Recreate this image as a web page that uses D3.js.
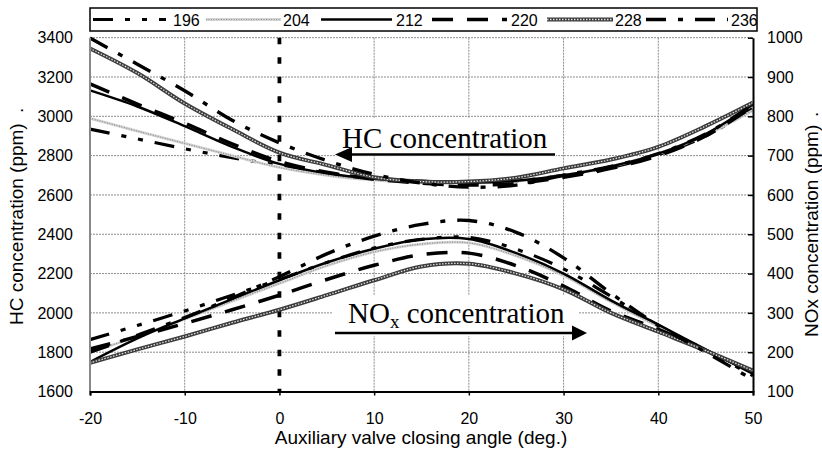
<!DOCTYPE html>
<html><head><meta charset="utf-8">
<script src="https://cdn.jsdelivr.net/npm/d3@7"></script>
<style>
html,body{margin:0;padding:0;background:#fff;}
svg{display:block;}
</style></head>
<body>
<svg id="chart" width="822" height="455"></svg>
<script>
// ---- data ----
const angles = [-20,-15,-10,-5,0,5,10,15,20,25,30,35,40,45,50];
const seriesNames = ["196","204","212","220","228","236"];
const hc196 = [2935,2885,2835,2790,2750,2712,2685,2670,2665,2672,2700,2740,2805,2900,3040];
const hc204 = [2990,2925,2862,2800,2740,2700,2675,2662,2660,2670,2700,2745,2810,2905,3030];
const hc212 = [3132,3050,2950,2845,2758,2710,2682,2668,2662,2672,2700,2745,2810,2910,3060];
const hc220 = [3165,3062,2965,2860,2770,2715,2680,2660,2650,2658,2690,2735,2800,2900,3050];
const hc228 = [3345,3220,3065,2935,2815,2752,2690,2668,2668,2688,2735,2780,2845,2950,3070];
const hc236 = [3398,3265,3130,2980,2865,2775,2705,2660,2640,2650,2700,2745,2810,2910,3060];
const nox196 = [232,268,305,345,385,428,465,487,492,462,412,342,268,205,140];
const nox204 = [200,240,284,330,375,420,455,475,478,445,395,328,265,205,150];
const nox212 = [175,235,286,335,383,428,463,487,488,452,400,332,270,207,145];
const nox220 = [208,240,273,308,345,385,421,448,452,420,368,305,258,205,150];
const nox228 = [173,207,240,275,308,345,383,418,425,400,360,300,252,204,153];
const nox236 = [200,243,288,338,392,450,495,525,535,505,440,350,268,200,130];
const xTicks = [-20,-10,0,10,20,30,40,50];
const hcTicks = [1600,1800,2000,2200,2400,2600,2800,3000,3200,3400];
const noxTicks = [100,200,300,400,500,600,700,800,900,1000];

const hcSeries = [hc196,hc204,hc212,hc220,hc228,hc236];
const noxSeries = [nox196,nox204,nox212,nox220,nox228,nox236];

// ---- styles per series ----
const styles = {
  "196": [{stroke:"#000", w:3.2, dash:"20,12,5,12,5,12"}],
  "204": [{stroke:"#d4d4d4", w:2.8, dash:null},{stroke:"#8f8f8f", w:1.2, dash:"1,1.5"}],
  "212": [{stroke:"#000", w:2.5, dash:null}],
  "220": [{stroke:"#000", w:3.5, dash:"21,14"}],
  "228": [{stroke:"#3c3c3c", w:4, dash:null},{stroke:"#e0e0e0", w:1.3, dash:"1.5,1.5"}],
  "236": [{stroke:"#000", w:3.4, dash:"20,12,5,12"}]
};

const sans = "'Liberation Sans', Arial, sans-serif";
const serif = "'Liberation Serif', 'Times New Roman', serif";

const svg = d3.select("#chart");
const L = 90, R = 753, T = 37.7, B = 391.5;
const x = d3.scaleLinear().domain([-20,50]).range([L,R]);
const yHC = d3.scaleLinear().domain([1600,3400]).range([B,T]);
const yNOx = d3.scaleLinear().domain([100,1000]).range([B,T]);

// grid
const grid = svg.append("g");
hcTicks.filter(v=>v>1600).forEach(v=>{
  grid.append("line").attr("x1",L).attr("x2",R).attr("y1",yHC(v)).attr("y2",yHC(v))
    .attr("stroke","#8c8c8c").attr("stroke-width",1).attr("stroke-dasharray","2,1");
});
xTicks.filter(v=>v!==0 && v!==-20 && v!==50).forEach(v=>{
  grid.append("line").attr("x1",x(v)).attr("x2",x(v)).attr("y1",T).attr("y2",B)
    .attr("stroke","#8c8c8c").attr("stroke-width",1).attr("stroke-dasharray","2,1");
});

// white label boxes
svg.append("rect").attr("x",335).attr("y",118).attr("width",221).attr("height",38).attr("fill","#fff");
svg.append("rect").attr("x",333).attr("y",295).attr("width",245).attr("height",41).attr("fill","#fff");

// zero line
svg.append("line").attr("x1",x(0)).attr("x2",x(0)).attr("y1",T).attr("y2",B)
  .attr("stroke","#000").attr("stroke-width",3.8).attr("stroke-dasharray","6.5,13");

// curves
const lineGen = yScale => d3.line().x((d,i)=>x(angles[i])).y(d=>yScale(d)).curve(d3.curveCatmullRom.alpha(0.5));
const curves = svg.append("g");
function drawSeries(data, yScale, name){
  styles[name].forEach(s=>{
    curves.append("path").datum(data).attr("d", lineGen(yScale))
      .attr("fill","none").attr("stroke",s.stroke).attr("stroke-width",s.w)
      .attr("stroke-dasharray",s.dash).attr("stroke-linejoin","round");
  });
}
seriesNames.forEach((n,i)=>{ drawSeries(hcSeries[i], yHC, n); drawSeries(noxSeries[i], yNOx, n); });

// axes
svg.append("line").attr("x1",L).attr("x2",L).attr("y1",T).attr("y2",B).attr("stroke","#888").attr("stroke-width",2);
const fmt = d => String(d);
const xAxis = svg.append("g").attr("transform",`translate(0,${B})`)
  .call(d3.axisBottom(x).tickValues(xTicks).tickSize(4).tickPadding(17).tickFormat(fmt));
xAxis.select(".domain").attr("stroke","#000").attr("stroke-width",2);
xAxis.selectAll(".tick line").attr("stroke","#000").attr("stroke-width",1.5);
xAxis.selectAll("text").style("font-size","16px").style("font-family",sans).attr("fill","#000");

const yAxisL = svg.append("g").attr("transform",`translate(${L},0)`)
  .call(d3.axisLeft(yHC).tickValues(hcTicks).tickSize(0).tickPadding(17).tickFormat(fmt));
yAxisL.select(".domain").remove();
yAxisL.selectAll("text").style("font-size","16px").style("font-family",sans).attr("fill","#000");

const yAxisR = svg.append("g").attr("transform",`translate(${R},0)`)
  .call(d3.axisRight(yNOx).tickValues(noxTicks).tickSizeInner(-5).tickSizeOuter(0).tickPadding(14).tickFormat(fmt));
yAxisR.select(".domain").attr("stroke","#000").attr("stroke-width",2);
yAxisR.selectAll(".tick line").attr("stroke","#000").attr("stroke-width",1.5);
yAxisR.selectAll("text").style("font-size","16px").style("font-family",sans).attr("fill","#000");

// axis titles
function txt(sel){ return sel.style("font-family",sans).attr("fill","#000"); }
txt(svg.append("text").attr("transform","translate(23,325) rotate(-90)").style("font-size","19px")
  .text("HC concentration (ppm)"));
txt(svg.append("text").attr("transform","translate(23,113) rotate(-90)").style("font-size","19px").text("."));
txt(svg.append("text").attr("transform","translate(818,337) rotate(-90)").style("font-size","19px")
  .text("NOx concentration (ppm)"));
txt(svg.append("text").attr("transform","translate(818,117) rotate(-90)").style("font-size","19px").text("."));
txt(svg.append("text").attr("x",421).attr("y",444).attr("text-anchor","middle").style("font-size","19px")
  .text("Auxiliary valve closing angle (deg.)"));

// annotations
svg.append("text").attr("x",342).attr("y",148).style("font-size","29px").style("font-family",serif).attr("fill","#000").text("HC concentration");
svg.append("line").attr("x1",350).attr("x2",555).attr("y1",154.5).attr("y2",154.5).attr("stroke","#000").attr("stroke-width",2.5);
svg.append("path").attr("d","M335,154.5 L352,147 L352,162 Z").attr("fill","#000");

const nt = svg.append("text").attr("x",348).attr("y",323).style("font-size","29px").style("font-family",serif).attr("fill","#000");
nt.append("tspan").text("NO");
nt.append("tspan").style("font-size","19px").attr("dy",5).text("x");
nt.append("tspan").attr("dy",-5).text(" concentration");
svg.append("line").attr("x1",335).attr("x2",575).attr("y1",333).attr("y2",333).attr("stroke","#000").attr("stroke-width",2.5);
svg.append("path").attr("d","M587,333 L572,325.5 L572,340.5 Z").attr("fill","#000");

// legend
const lg = svg.append("g");
lg.append("rect").attr("x",90).attr("y",8).attr("width",667).attr("height",23).attr("fill","#fff").attr("stroke","#000").attr("stroke-width",1.5);
const legendX = [[93,166,173],[206,281,283],[321,392,396],[432,507,511],[547,613,615],[646,728,731]];
seriesNames.forEach((n,i)=>{
  const [a,b,t] = legendX[i];
  styles[n].forEach(s=>{
    lg.append("line").attr("x1",a).attr("x2",b).attr("y1",19.5).attr("y2",19.5)
      .attr("stroke",s.stroke).attr("stroke-width",s.w).attr("stroke-dasharray",s.dash);
  });
  txt(lg.append("text").attr("x",t).attr("y",25.5).style("font-size","16px").text(n));
});
</script>
</body></html>
